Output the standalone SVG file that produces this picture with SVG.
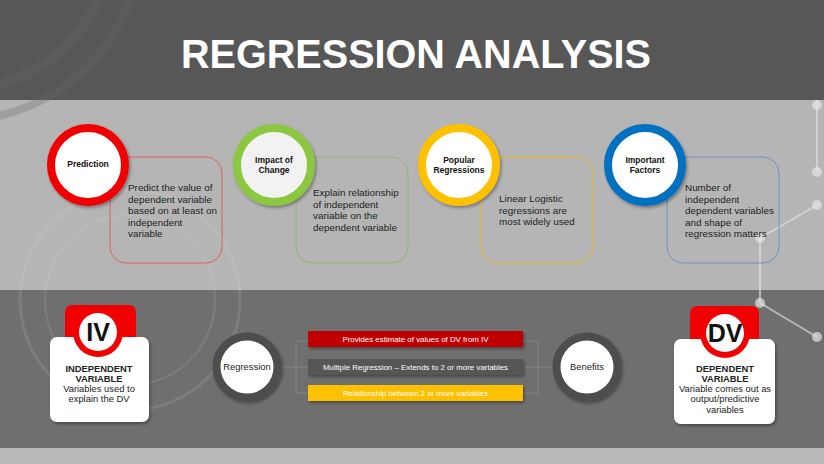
<svg xmlns="http://www.w3.org/2000/svg" width="824" height="464" viewBox="0 0 824 464">
<defs>
<style>
.t{font-family:"Liberation Sans",Arial,sans-serif;}
.lbl{font-family:"Liberation Sans",Arial,sans-serif;font-size:8.5px;font-weight:bold;fill:#111;text-anchor:middle;}
.desc{font-family:"Liberation Sans",Arial,sans-serif;font-size:9.9px;fill:#222;}
.bar{font-family:"Liberation Sans",Arial,sans-serif;font-size:7.9px;fill:#fff;text-anchor:middle;}
.card{font-family:"Liberation Sans",Arial,sans-serif;font-size:9.4px;fill:#222;text-anchor:middle;}
.deco{stroke:#e6e6e6;stroke-width:2;fill:none;opacity:0.6;}
.node{fill:#e6e6e6;opacity:0.7;}
.conn{stroke:#858585;stroke-width:1;fill:none;}
</style>
<filter id="sh" x="-30%" y="-30%" width="160%" height="160%">
<feDropShadow dx="1.5" dy="2" stdDeviation="1.8" flood-color="#000" flood-opacity="0.35"/>
</filter>
</defs>

<!-- background bands -->
<rect x="0" y="0" width="824" height="100" fill="#575757"/>
<rect x="0" y="100" width="824" height="190" fill="#b5b5b5"/>
<rect x="0" y="290" width="824" height="158" fill="#6f6f6f"/>
<rect x="0" y="448" width="824" height="16" fill="#b9b9b9"/>

<!-- faint decorations -->
<g opacity="0.3">
<circle cx="-40" cy="-60" r="150" fill="none" stroke="#6a6a6a" stroke-width="10"/>
<circle cx="-40" cy="-60" r="180" fill="none" stroke="#6a6a6a" stroke-width="8"/>
</g>
<g opacity="0.12">
<circle cx="130" cy="300" r="110" fill="none" stroke="#e0e0e0" stroke-width="3"/>
<circle cx="130" cy="300" r="85" fill="none" stroke="#e0e0e0" stroke-width="2"/>
</g>
<g>
<line class="deco" x1="817" y1="100" x2="817" y2="172"/>
<line class="deco" x1="817" y1="205" x2="760" y2="238"/>
<line class="deco" x1="760" y1="238" x2="760" y2="303"/>
<line class="deco" x1="760" y1="303" x2="817" y2="337"/>
<circle class="node" cx="817" cy="105" r="5"/>
<circle class="node" cx="817" cy="172" r="5"/>
<circle class="node" cx="817" cy="205" r="5"/>
<circle class="node" cx="760" cy="238" r="5"/>
<circle class="node" cx="760" cy="303" r="5"/>
<circle class="node" cx="817" cy="337" r="5"/>
</g>

<!-- title -->
<text class="t" x="416" y="68" font-size="40" font-weight="bold" fill="#fff" text-anchor="middle" textLength="470" lengthAdjust="spacingAndGlyphs">REGRESSION ANALYSIS</text>

<!-- connectors -->
<g id="connectors">
<line class="conn" x1="282" y1="367" x2="296" y2="367"/>
<path class="conn" d="M308,341 H296 V393 H308"/>
<line class="conn" x1="296" y1="367" x2="308" y2="367"/>
<line class="conn" x1="552" y1="367" x2="538" y2="367"/>
<path class="conn" d="M523,341 H538 V393 H523"/>
<line class="conn" x1="538" y1="367" x2="523" y2="367"/>
</g>

<!-- top row -->
<g id="prediction">
<rect x="110" y="157" width="112" height="106" rx="16" fill="none" stroke="#e06060" stroke-width="1"/>
<circle cx="88" cy="165" r="37" fill="#fff" stroke="#f00000" stroke-width="8" filter="url(#sh)"/>
<text class="lbl" x="88" y="167">Prediction</text>
<text class="desc" x="128" y="191">Predict the value of</text>
<text class="desc" x="128" y="202.5">dependent variable</text>
<text class="desc" x="128" y="214">based on at least on</text>
<text class="desc" x="128" y="225.5">independent</text>
<text class="desc" x="128" y="237">variable</text>
</g>

<g id="impact">
<rect x="296" y="157" width="112" height="106" rx="16" fill="none" stroke="#8fb870" stroke-width="1"/>
<circle cx="274" cy="165" r="37" fill="#f2f2f2" stroke="#8dc63f" stroke-width="8" filter="url(#sh)"/>
<text class="lbl" x="274" y="163">Impact of</text>
<text class="lbl" x="274" y="173">Change</text>
<text class="desc" x="313" y="196">Explain relationship</text>
<text class="desc" x="313" y="207.5">of independent</text>
<text class="desc" x="313" y="219">variable on the</text>
<text class="desc" x="313" y="230.5">dependent variable</text>
</g>

<g id="popular">
<rect x="481" y="157" width="112" height="106" rx="16" fill="none" stroke="#e8b830" stroke-width="1"/>
<circle cx="459" cy="165" r="37" fill="#fff" stroke="#ffc000" stroke-width="8" filter="url(#sh)"/>
<text class="lbl" x="459" y="163">Popular</text>
<text class="lbl" x="459" y="173">Regressions</text>
<text class="desc" x="499" y="202">Linear Logistic</text>
<text class="desc" x="499" y="213.5">regressions are</text>
<text class="desc" x="499" y="225">most widely used</text>
</g>

<g id="factors">
<rect x="667" y="157" width="112" height="106" rx="16" fill="none" stroke="#7090c0" stroke-width="1"/>
<circle cx="645" cy="165" r="37" fill="#fff" stroke="#0070c0" stroke-width="8" filter="url(#sh)"/>
<text class="lbl" x="645" y="163" font-weight="normal">Important</text>
<text class="lbl" x="645" y="173" font-weight="normal">Factors</text>
<text class="desc" x="685" y="191">Number of</text>
<text class="desc" x="685" y="202.5">independent</text>
<text class="desc" x="685" y="214">dependent variables</text>
<text class="desc" x="685" y="225.5">and shape of</text>
<text class="desc" x="685" y="237">regression matters</text>
</g>

<!-- bottom row -->
<g id="iv">
<path d="M65,345 V312 a7,7 0 0 1 7,-7 H129 a7,7 0 0 1 7,7 V345 Z" fill="#f00000"/>
<rect x="50" y="337" width="99" height="85" rx="7" fill="#fff" filter="url(#sh)"/>
<circle cx="98" cy="332" r="25" fill="#f00000"/>
<circle cx="98" cy="332" r="19" fill="#fff"/>
<text class="t" x="98" y="341" font-size="25" font-weight="bold" fill="#111" text-anchor="middle">IV</text>
<text class="card" x="99" y="372" font-weight="bold">INDEPENDENT</text>
<text class="card" x="99" y="382" font-weight="bold">VARIABLE</text>
<text class="card" x="99" y="392">Variables used to</text>
<text class="card" x="99" y="402">explain the DV</text>
</g>

<g id="regression">
<circle cx="247" cy="367" r="30.5" fill="#fff" stroke="#4d4d4d" stroke-width="8" filter="url(#sh)"/>
<text class="card" x="247" y="370" font-size="8.3">Regression</text>
</g>

<g id="bars">
<rect x="308" y="331" width="215" height="16" fill="#c00000" filter="url(#sh)"/>
<text class="bar" x="415.5" y="342">Provides estimate of values of DV from IV</text>
<rect x="308" y="359" width="215" height="16" fill="#575757" filter="url(#sh)"/>
<text class="bar" x="415.5" y="370">Multiple Regression – Extends to 2 or more variables</text>
<rect x="308" y="385" width="215" height="16" fill="#ffc000" filter="url(#sh)"/>
<text class="bar" x="415.5" y="396">Relationship between 2 or more variables</text>
</g>

<g id="benefits">
<circle cx="587" cy="367" r="30.5" fill="#fff" stroke="#4d4d4d" stroke-width="8" filter="url(#sh)"/>
<text class="card" x="587" y="370" font-size="8.3">Benefits</text>
</g>

<g id="dv">
<path d="M690,347 V313 a7,7 0 0 1 7,-7 H752 a7,7 0 0 1 7,7 V347 Z" fill="#f00000"/>
<rect x="674" y="339" width="101" height="85" rx="7" fill="#fff" filter="url(#sh)"/>
<circle cx="725" cy="333" r="25" fill="#f00000"/>
<circle cx="725" cy="333" r="19" fill="#fff"/>
<text class="t" x="725" y="342" font-size="25" font-weight="bold" fill="#111" text-anchor="middle">DV</text>
<text class="card" x="725" y="372" font-weight="bold">DEPENDENT</text>
<text class="card" x="725" y="382" font-weight="bold">VARIABLE</text>
<text class="card" x="725" y="392">Variable comes out as</text>
<text class="card" x="725" y="402">output/predictive</text>
<text class="card" x="725" y="412.5">variables</text>
</g>
</svg>
